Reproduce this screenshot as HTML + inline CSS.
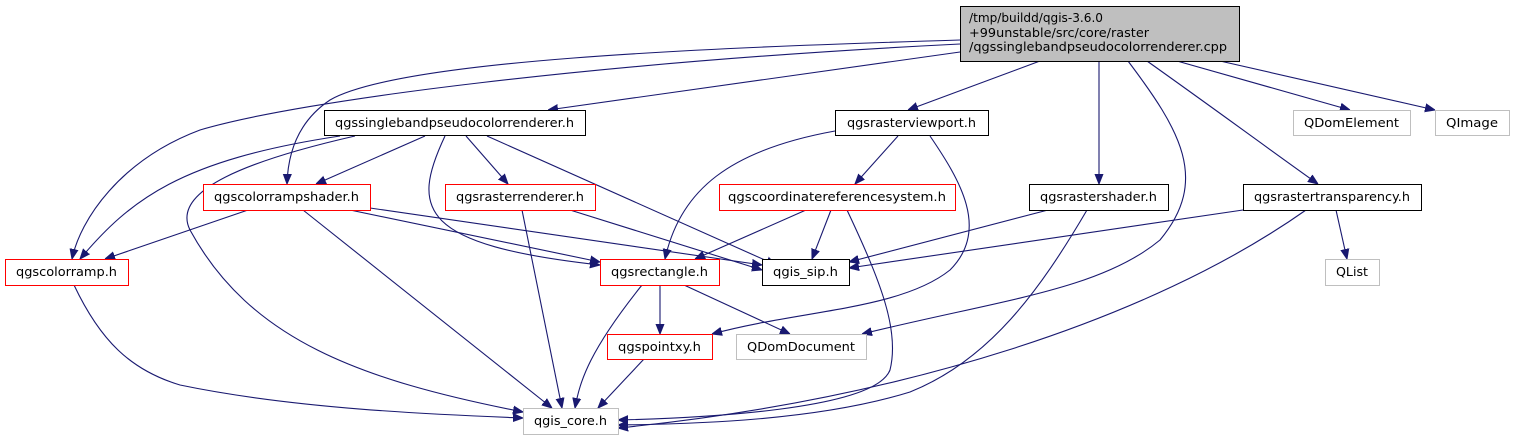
<!DOCTYPE html>
<html><head><meta charset="utf-8"><style>
html,body{margin:0;padding:0;background:#fff;}
svg{display:block;}
text{font-family:"DejaVu Sans","Liberation Sans",sans-serif;font-size:12px;fill:#000;}
.e{fill:none;stroke:#191970;stroke-width:1.1;}
</style></head><body>
<svg width="1514" height="440" viewBox="0 0 1514 440" xmlns="http://www.w3.org/2000/svg">
<defs><marker id="a" viewBox="0 0 10 10" refX="10" refY="5" markerWidth="10" markerHeight="10" markerUnits="userSpaceOnUse" orient="auto"><path d="M0,1 L10,5 L0,9 z" fill="#191970" stroke="#191970"/></marker></defs>
<g class="e" marker-end="url(#a)">
<path d="M960,52 L548,110"/>
<path d="M960,40 C700,48 400,60 330,100 C300,120 288,150 287,184"/>
<path d="M960,44 C600,62 300,100 200,130 C120,160 80,220 72,259"/>
<path d="M1040,61 L908,110"/>
<path d="M1099,61 L1099,184"/>
<path d="M1128,61 C1180,130 1210,180 1160,240 C1100,290 1000,300 862,334"/>
<path d="M1147,61 C1230,120 1270,150 1318,184"/>
<path d="M1177,61 L1350,110"/>
<path d="M1220,61 L1435,110"/>
<path d="M425,136 L316,184"/>
<path d="M466,136 L508,184"/>
<path d="M445,136 C410,210 420,245 600,265"/>
<path d="M487,136 L776,265"/>
<path d="M355,136 C250,160 170,190 190,230 C250,340 360,380 523,412"/>
<path d="M340,136 C180,160 130,200 80,259"/>
<path d="M248,210 L105,259"/>
<path d="M303,210 L552,408"/>
<path d="M350,210 L600,262"/>
<path d="M370,208 L762,265"/>
<path d="M522,210 L562,408"/>
<path d="M570,210 L762,270"/>
<path d="M835,131 C730,150 680,190 665,259"/>
<path d="M898,136 L855,184"/>
<path d="M930,136 C960,180 990,230 950,270 C900,310 800,310 712,334"/>
<path d="M806,210 L695,259"/>
<path d="M831,210 L812,259"/>
<path d="M847,210 C880,280 900,330 890,370 C875,410 700,418 618,420"/>
<path d="M1048,210 L849,262"/>
<path d="M1087,210 C1040,290 990,360 910,392 C820,420 700,424 618,425"/>
<path d="M1243,210 L849,268"/>
<path d="M1336,210 L1347,259"/>
<path d="M1306,210 C1150,320 900,400 618,428"/>
<path d="M660,285 L660,334"/>
<path d="M642,285 C590,350 580,380 575,408"/>
<path d="M684,285 L790,334"/>
<path d="M644,359 L598,408"/>
<path d="M74,285 C100,340 130,370 180,385 C300,410 450,415 523,418"/>
</g>
<g stroke-width="1">
<rect x="960.5" y="6.5" width="279" height="55" fill="#bfbfbf" stroke="#000"/>
<rect x="324.5" y="110.5" width="261" height="25" fill="#fff" stroke="#000"/>
<rect x="835.5" y="110.5" width="153" height="25" fill="#fff" stroke="#000"/>
<rect x="1293.5" y="110.5" width="117" height="25" fill="#fff" stroke="#bfbfbf"/>
<rect x="1435.5" y="110.5" width="74" height="25" fill="#fff" stroke="#bfbfbf"/>
<rect x="203.5" y="184.5" width="167" height="26" fill="#fff" stroke="#f00"/>
<rect x="445.5" y="184.5" width="150" height="26" fill="#fff" stroke="#f00"/>
<rect x="719.5" y="184.5" width="236" height="26" fill="#fff" stroke="#f00"/>
<rect x="1029.5" y="184.5" width="139" height="26" fill="#fff" stroke="#000"/>
<rect x="1243.5" y="184.5" width="178" height="26" fill="#fff" stroke="#000"/>
<rect x="5.5" y="259.5" width="123" height="26" fill="#fff" stroke="#f00"/>
<rect x="600.5" y="259.5" width="119" height="26" fill="#fff" stroke="#f00"/>
<rect x="762.5" y="259.5" width="87" height="26" fill="#fff" stroke="#000"/>
<rect x="1325.5" y="259.5" width="54" height="26" fill="#fff" stroke="#bfbfbf"/>
<rect x="607.5" y="334.5" width="105" height="25" fill="#fff" stroke="#f00"/>
<rect x="736.5" y="334.5" width="130" height="25" fill="#fff" stroke="#bfbfbf"/>
<rect x="523.5" y="408.5" width="95" height="26" fill="#fff" stroke="#bfbfbf"/>
</g>
<text x="969" y="22" textLength="134" lengthAdjust="spacingAndGlyphs">/tmp/buildd/qgis-3.6.0</text>
<text x="969" y="37" textLength="180" lengthAdjust="spacingAndGlyphs">+99unstable/src/core/raster</text>
<text x="969" y="51" textLength="258" lengthAdjust="spacingAndGlyphs">/qgssinglebandpseudocolorrenderer.cpp</text>
<text x="335" y="127" textLength="239" lengthAdjust="spacingAndGlyphs">qgssinglebandpseudocolorrenderer.h</text>
<text x="847" y="127" textLength="129" lengthAdjust="spacingAndGlyphs">qgsrasterviewport.h</text>
<text x="1304" y="127" textLength="95" lengthAdjust="spacingAndGlyphs">QDomElement</text>
<text x="1446" y="127" textLength="52" lengthAdjust="spacingAndGlyphs">QImage</text>
<text x="214" y="201" textLength="145" lengthAdjust="spacingAndGlyphs">qgscolorrampshader.h</text>
<text x="456" y="201" textLength="128" lengthAdjust="spacingAndGlyphs">qgsrasterrenderer.h</text>
<text x="728" y="201" textLength="218" lengthAdjust="spacingAndGlyphs">qgscoordinatereferencesystem.h</text>
<text x="1040" y="201" textLength="117" lengthAdjust="spacingAndGlyphs">qgsrastershader.h</text>
<text x="1254" y="201" textLength="156" lengthAdjust="spacingAndGlyphs">qgsrastertransparency.h</text>
<text x="16" y="276" textLength="101" lengthAdjust="spacingAndGlyphs">qgscolorramp.h</text>
<text x="611" y="276" textLength="97" lengthAdjust="spacingAndGlyphs">qgsrectangle.h</text>
<text x="773" y="276" textLength="65" lengthAdjust="spacingAndGlyphs">qgis_sip.h</text>
<text x="1336" y="276" textLength="32" lengthAdjust="spacingAndGlyphs">QList</text>
<text x="618" y="351" textLength="83" lengthAdjust="spacingAndGlyphs">qgspointxy.h</text>
<text x="747" y="351" textLength="108" lengthAdjust="spacingAndGlyphs">QDomDocument</text>
<text x="534" y="425" textLength="73" lengthAdjust="spacingAndGlyphs">qgis_core.h</text>
</svg>
</body></html>
